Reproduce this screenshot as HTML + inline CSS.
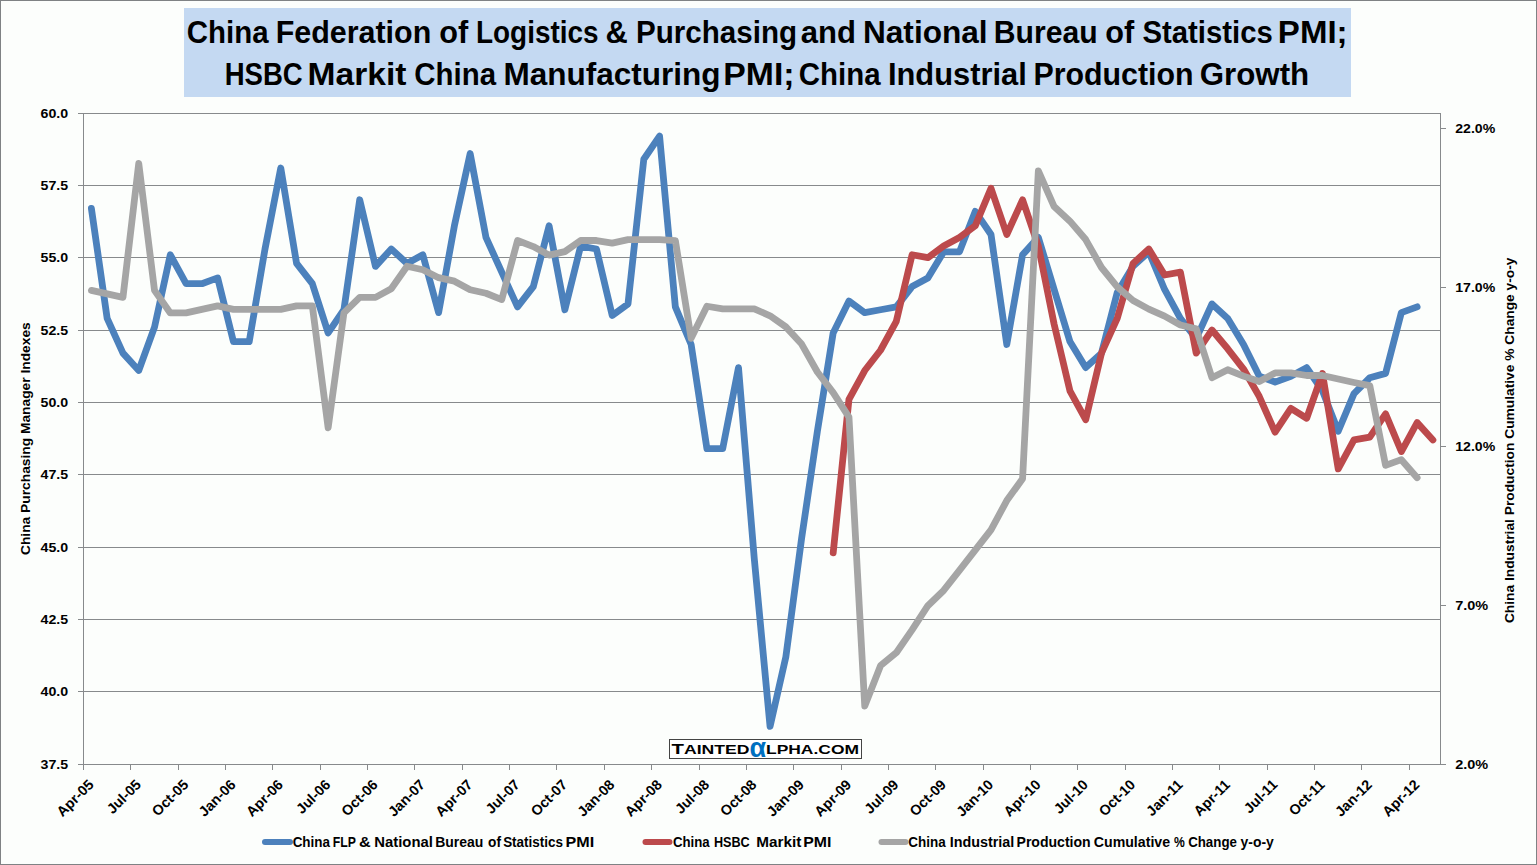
<!DOCTYPE html><html><head><meta charset="utf-8"><title>China PMI chart</title><style>
html,body{margin:0;padding:0;background:#FCFEFC;}svg{display:block;}
text{font-family:"Liberation Sans",Arial,sans-serif;font-weight:bold;fill:#000;}
</style></head><body>
<svg width="1537" height="865" viewBox="0 0 1537 865">
<rect x="0" y="0" width="1537" height="865" fill="#FCFEFC"/>
<rect x="0.5" y="0.5" width="1536" height="864" fill="none" stroke="#7F8284" stroke-width="1"/>
<rect x="184" y="8" width="1167" height="89" fill="#C4D9F2"/>
<text x="186.85" y="43.10" font-size="31" textLength="81.77" lengthAdjust="spacingAndGlyphs">China</text>
<text x="275.64" y="43.10" font-size="31" textLength="155.61" lengthAdjust="spacingAndGlyphs">Federation</text>
<text x="439.21" y="43.10" font-size="31" textLength="28.96" lengthAdjust="spacingAndGlyphs">of</text>
<text x="476.00" y="43.10" font-size="31" textLength="122.48" lengthAdjust="spacingAndGlyphs">Logistics</text>
<text x="605.60" y="43.10" font-size="31" textLength="22.28" lengthAdjust="spacingAndGlyphs">&amp;</text>
<text x="635.99" y="43.10" font-size="31" textLength="161.05" lengthAdjust="spacingAndGlyphs">Purchasing</text>
<text x="800.80" y="43.10" font-size="31" textLength="55.23" lengthAdjust="spacingAndGlyphs">and</text>
<text x="862.96" y="43.10" font-size="31" textLength="124.68" lengthAdjust="spacingAndGlyphs">National</text>
<text x="993.75" y="43.10" font-size="31" textLength="103.91" lengthAdjust="spacingAndGlyphs">Bureau</text>
<text x="1105.31" y="43.10" font-size="31" textLength="28.96" lengthAdjust="spacingAndGlyphs">of</text>
<text x="1142.45" y="43.10" font-size="31" textLength="130.34" lengthAdjust="spacingAndGlyphs">Statistics</text>
<text x="1277.87" y="43.10" font-size="31" textLength="69.73" lengthAdjust="spacingAndGlyphs">PMI;</text>
<text x="224.72" y="85.00" font-size="31" textLength="78.03" lengthAdjust="spacingAndGlyphs">HSBC</text>
<text x="307.64" y="85.00" font-size="31" textLength="98.80" lengthAdjust="spacingAndGlyphs">Markit</text>
<text x="414.25" y="85.00" font-size="31" textLength="81.77" lengthAdjust="spacingAndGlyphs">China</text>
<text x="503.57" y="85.00" font-size="31" textLength="217.02" lengthAdjust="spacingAndGlyphs">Manufacturing</text>
<text x="723.32" y="85.00" font-size="31" textLength="71.23" lengthAdjust="spacingAndGlyphs">PMI;</text>
<text x="798.75" y="85.00" font-size="31" textLength="81.77" lengthAdjust="spacingAndGlyphs">China</text>
<text x="887.91" y="85.00" font-size="31" textLength="138.80" lengthAdjust="spacingAndGlyphs">Industrial</text>
<text x="1033.44" y="85.00" font-size="31" textLength="160.13" lengthAdjust="spacingAndGlyphs">Production</text>
<text x="1199.79" y="85.00" font-size="31" textLength="109.42" lengthAdjust="spacingAndGlyphs">Growth</text>
<path d="M78.0 113.5H1440.0M78.0 185.5H1440.0M78.0 257.5H1440.0M78.0 330.5H1440.0M78.0 402.5H1440.0M78.0 474.5H1440.0M78.0 547.5H1440.0M78.0 619.5H1440.0M78.0 691.5H1440.0M78.0 764.5H1440.0" stroke="#878A8C" stroke-width="1" fill="none"/>
<path d="M83.5 113.0V765.0M1440.5 113.0V765.0" stroke="#878A8C" stroke-width="1" fill="none"/>
<path d="M1441.0 764.5H1446.0M1441.0 605.5H1446.0M1441.0 446.5H1446.0M1441.0 287.5H1446.0M1441.0 128.5H1446.0" stroke="#878A8C" stroke-width="1" fill="none"/>
<path d="M83.5 765.0V770.0M130.5 765.0V770.0M178.5 765.0V770.0M225.5 765.0V770.0M272.5 765.0V770.0M320.5 765.0V770.0M367.5 765.0V770.0M414.5 765.0V770.0M462.5 765.0V770.0M509.5 765.0V770.0M556.5 765.0V770.0M604.5 765.0V770.0M651.5 765.0V770.0M699.5 765.0V770.0M746.5 765.0V770.0M793.5 765.0V770.0M841.5 765.0V770.0M888.5 765.0V770.0M935.5 765.0V770.0M983.5 765.0V770.0M1030.5 765.0V770.0M1077.5 765.0V770.0M1125.5 765.0V770.0M1172.5 765.0V770.0M1219.5 765.0V770.0M1267.5 765.0V770.0M1314.5 765.0V770.0M1361.5 765.0V770.0M1409.5 765.0V770.0" stroke="#878A8C" stroke-width="1" fill="none"/>
<text x="68.1" y="117.8" text-anchor="end" font-size="13.7" textLength="27.6" lengthAdjust="spacingAndGlyphs">60.0</text>
<text x="68.1" y="189.8" text-anchor="end" font-size="13.7" textLength="27.6" lengthAdjust="spacingAndGlyphs">57.5</text>
<text x="68.1" y="261.8" text-anchor="end" font-size="13.7" textLength="27.6" lengthAdjust="spacingAndGlyphs">55.0</text>
<text x="68.1" y="334.8" text-anchor="end" font-size="13.7" textLength="27.6" lengthAdjust="spacingAndGlyphs">52.5</text>
<text x="68.1" y="406.8" text-anchor="end" font-size="13.7" textLength="27.6" lengthAdjust="spacingAndGlyphs">50.0</text>
<text x="68.1" y="478.8" text-anchor="end" font-size="13.7" textLength="27.6" lengthAdjust="spacingAndGlyphs">47.5</text>
<text x="68.1" y="551.8" text-anchor="end" font-size="13.7" textLength="27.6" lengthAdjust="spacingAndGlyphs">45.0</text>
<text x="68.1" y="623.8" text-anchor="end" font-size="13.7" textLength="27.6" lengthAdjust="spacingAndGlyphs">42.5</text>
<text x="68.1" y="695.8" text-anchor="end" font-size="13.7" textLength="27.6" lengthAdjust="spacingAndGlyphs">40.0</text>
<text x="68.1" y="768.8" text-anchor="end" font-size="13.7" textLength="27.6" lengthAdjust="spacingAndGlyphs">37.5</text>
<text x="1455.2" y="768.8" font-size="13.7" textLength="33" lengthAdjust="spacingAndGlyphs">2.0%</text>
<text x="1455.2" y="609.8" font-size="13.7" textLength="33" lengthAdjust="spacingAndGlyphs">7.0%</text>
<text x="1455.2" y="450.8" font-size="13.7" textLength="40" lengthAdjust="spacingAndGlyphs">12.0%</text>
<text x="1455.2" y="291.8" font-size="13.7" textLength="40" lengthAdjust="spacingAndGlyphs">17.0%</text>
<text x="1455.2" y="132.8" font-size="13.7" textLength="40" lengthAdjust="spacingAndGlyphs">22.0%</text>
<text transform="translate(94.6 785.5) rotate(-45)" text-anchor="end" font-size="14.3">Apr-05</text>
<text transform="translate(141.9 785.5) rotate(-45)" text-anchor="end" font-size="14.3">Jul-05</text>
<text transform="translate(189.3 785.5) rotate(-45)" text-anchor="end" font-size="14.3">Oct-05</text>
<text transform="translate(236.6 785.5) rotate(-45)" text-anchor="end" font-size="14.3">Jan-06</text>
<text transform="translate(284.0 785.5) rotate(-45)" text-anchor="end" font-size="14.3">Apr-06</text>
<text transform="translate(331.3 785.5) rotate(-45)" text-anchor="end" font-size="14.3">Jul-06</text>
<text transform="translate(378.7 785.5) rotate(-45)" text-anchor="end" font-size="14.3">Oct-06</text>
<text transform="translate(426.0 785.5) rotate(-45)" text-anchor="end" font-size="14.3">Jan-07</text>
<text transform="translate(473.4 785.5) rotate(-45)" text-anchor="end" font-size="14.3">Apr-07</text>
<text transform="translate(520.7 785.5) rotate(-45)" text-anchor="end" font-size="14.3">Jul-07</text>
<text transform="translate(568.1 785.5) rotate(-45)" text-anchor="end" font-size="14.3">Oct-07</text>
<text transform="translate(615.4 785.5) rotate(-45)" text-anchor="end" font-size="14.3">Jan-08</text>
<text transform="translate(662.8 785.5) rotate(-45)" text-anchor="end" font-size="14.3">Apr-08</text>
<text transform="translate(710.1 785.5) rotate(-45)" text-anchor="end" font-size="14.3">Jul-08</text>
<text transform="translate(757.5 785.5) rotate(-45)" text-anchor="end" font-size="14.3">Oct-08</text>
<text transform="translate(804.8 785.5) rotate(-45)" text-anchor="end" font-size="14.3">Jan-09</text>
<text transform="translate(852.2 785.5) rotate(-45)" text-anchor="end" font-size="14.3">Apr-09</text>
<text transform="translate(899.5 785.5) rotate(-45)" text-anchor="end" font-size="14.3">Jul-09</text>
<text transform="translate(946.9 785.5) rotate(-45)" text-anchor="end" font-size="14.3">Oct-09</text>
<text transform="translate(994.2 785.5) rotate(-45)" text-anchor="end" font-size="14.3">Jan-10</text>
<text transform="translate(1041.6 785.5) rotate(-45)" text-anchor="end" font-size="14.3">Apr-10</text>
<text transform="translate(1088.9 785.5) rotate(-45)" text-anchor="end" font-size="14.3">Jul-10</text>
<text transform="translate(1136.2 785.5) rotate(-45)" text-anchor="end" font-size="14.3">Oct-10</text>
<text transform="translate(1183.6 785.5) rotate(-45)" text-anchor="end" font-size="14.3">Jan-11</text>
<text transform="translate(1230.9 785.5) rotate(-45)" text-anchor="end" font-size="14.3">Apr-11</text>
<text transform="translate(1278.3 785.5) rotate(-45)" text-anchor="end" font-size="14.3">Jul-11</text>
<text transform="translate(1325.6 785.5) rotate(-45)" text-anchor="end" font-size="14.3">Oct-11</text>
<text transform="translate(1373.0 785.5) rotate(-45)" text-anchor="end" font-size="14.3">Jan-12</text>
<text transform="translate(1420.3 785.5) rotate(-45)" text-anchor="end" font-size="14.3">Apr-12</text>
<g transform="translate(30.2 0) rotate(-90)">
<text x="-555.00" y="0.00" font-size="13" textLength="232.76" lengthAdjust="spacingAndGlyphs">China Purchasing Manager Indexes</text>
</g>
<g transform="translate(1514.1 0) rotate(-90)">
<text x="-623.10" y="0.00" font-size="13" textLength="365.58" lengthAdjust="spacingAndGlyphs">China Industrial Production Cumulative % Change y-o-y</text>
</g>
<rect x="669.5" y="739.5" width="192" height="19" fill="#FFFFFF" stroke="#444" stroke-width="1"/>
<text x="671.5" y="753.8" font-size="15" textLength="78" lengthAdjust="spacingAndGlyphs">T<tspan font-size="13">AINTED</tspan></text>
<text x="749.6" y="756.6" font-size="27.5" textLength="16.6" lengthAdjust="spacingAndGlyphs" style="fill:#0070C0">&#945;</text>
<text x="766" y="753.8" font-size="13" textLength="93" lengthAdjust="spacingAndGlyphs">LPHA.COM</text>
<g fill="none" stroke-width="6.8" stroke-linejoin="round" stroke-linecap="round">
<polyline stroke="#4C81BC" points="91.39,208.48 107.17,318.43 122.96,353.15 138.74,370.51 154.52,327.11 170.30,254.77 186.09,283.71 201.87,283.71 217.65,277.92 233.44,341.57 249.22,341.57 265.00,248.99 280.78,167.97 296.57,263.45 312.35,283.71 328.13,332.89 343.91,309.75 359.70,199.80 375.48,266.35 391.26,248.99 407.04,263.45 422.83,254.77 438.61,312.64 454.39,225.84 470.18,153.51 485.96,237.41 501.74,272.13 517.52,306.85 533.31,286.60 549.09,225.84 564.87,309.75 580.65,246.09 596.44,248.99 612.22,315.53 628.00,303.96 643.78,159.29 659.57,136.15 675.35,306.85 691.13,344.47 706.92,448.63 722.70,448.63 738.48,367.61 754.26,558.57 770.05,726.39 785.83,656.95 801.61,538.32 817.39,431.27 833.18,332.89 848.96,301.07 864.74,312.64 880.52,309.75 896.31,306.85 912.09,286.60 927.87,277.92 943.66,251.88 959.44,251.88 975.22,211.37 991.00,234.52 1006.79,344.47 1022.57,254.77 1038.35,237.41 1054.13,289.49 1069.92,341.57 1085.70,367.61 1101.48,353.15 1117.26,292.39 1133.05,266.35 1148.83,251.88 1164.61,289.49 1180.40,318.43 1196.18,338.68 1211.96,303.96 1227.74,318.43 1243.53,344.47 1259.31,376.29 1275.09,382.08 1290.87,376.29 1306.66,367.61 1322.44,390.76 1338.22,431.27 1354.00,393.65 1369.79,377.74 1385.57,373.40 1401.35,312.64 1417.14,306.85"/>
<polyline stroke="#BC4A4C" points="833.18,552.79 848.96,399.44 864.74,370.51 880.52,350.25 896.31,321.32 912.09,254.77 927.87,257.67 943.66,246.09 959.44,237.41 975.22,225.84 991.00,188.23 1006.79,234.52 1022.57,199.80 1038.35,246.09 1054.13,324.21 1069.92,390.76 1085.70,419.69 1101.48,353.15 1117.26,318.43 1133.05,263.45 1148.83,248.99 1164.61,275.03 1180.40,272.13 1196.18,353.15 1211.96,330.00 1227.74,348.81 1243.53,369.06 1259.31,396.55 1275.09,432.13 1290.87,408.41 1306.66,418.25 1322.44,373.40 1338.22,468.88 1354.00,439.95 1369.79,437.05 1385.57,413.91 1401.35,451.52 1417.14,422.59 1432.92,439.95"/>
<polyline stroke="#A5A5A5" points="91.39,290.38 107.17,293.87 122.96,297.37 138.74,163.36 154.52,290.38 170.30,312.93 186.09,312.93 201.87,309.44 217.65,305.94 233.44,309.44 249.22,309.44 265.00,309.44 280.78,309.44 296.57,305.94 312.35,305.94 328.13,427.89 343.91,312.93 359.70,297.37 375.48,297.37 391.26,288.79 407.04,266.25 422.83,269.74 438.61,277.68 454.39,281.17 470.18,289.75 485.96,293.24 501.74,299.59 517.52,240.52 533.31,246.56 549.09,255.13 564.87,251.64 580.65,240.52 596.44,240.52 612.22,243.06 628.00,239.57 643.78,239.57 659.57,239.57 675.35,240.52 691.13,338.33 706.92,306.26 722.70,308.80 738.48,308.80 754.26,308.80 770.05,315.79 785.83,326.90 801.61,344.05 817.39,371.99 833.18,392.64 848.96,417.09 864.74,706.07 880.52,665.74 896.31,652.72 912.09,629.85 927.87,605.72 943.66,590.48 959.44,570.47 975.22,550.15 991.00,529.82 1006.79,500.61 1022.57,478.70 1038.35,170.98 1054.13,206.55 1069.92,221.15 1085.70,239.57 1101.48,267.52 1117.26,286.89 1133.05,300.54 1148.83,309.12 1164.61,316.10 1180.40,325.00 1196.18,328.81 1211.96,377.71 1227.74,369.77 1243.53,376.12 1259.31,381.52 1275.09,372.95 1290.87,372.95 1306.66,375.49 1322.44,375.49 1338.22,378.98 1354.00,382.47 1369.79,385.65 1385.57,465.36 1401.35,459.64 1417.14,477.74"/>
</g>
<g stroke-width="6" stroke-linecap="round">
<path d="M265 841.9H290" stroke="#4C81BC"/>
<path d="M645.5 841.9H669.5" stroke="#BC4A4C"/>
<path d="M881.5 841.9H905.5" stroke="#A5A5A5"/>
</g>
<text x="292.64" y="846.80" font-size="14" textLength="37.36" lengthAdjust="spacingAndGlyphs">China</text>
<text x="332.82" y="846.80" font-size="14" textLength="23.17" lengthAdjust="spacingAndGlyphs">FLP</text>
<text x="359.14" y="846.80" font-size="14" textLength="11.70" lengthAdjust="spacingAndGlyphs">&amp;</text>
<text x="374.34" y="846.80" font-size="14" textLength="58.57" lengthAdjust="spacingAndGlyphs">National</text>
<text x="435.20" y="846.80" font-size="14" textLength="48.13" lengthAdjust="spacingAndGlyphs">Bureau</text>
<text x="488.10" y="846.80" font-size="14" textLength="12.91" lengthAdjust="spacingAndGlyphs">of</text>
<text x="503.14" y="846.80" font-size="14" textLength="59.80" lengthAdjust="spacingAndGlyphs">Statistics</text>
<text x="565.45" y="846.80" font-size="14" textLength="28.68" lengthAdjust="spacingAndGlyphs">PMI</text>
<text x="672.96" y="846.80" font-size="14" textLength="36.74" lengthAdjust="spacingAndGlyphs">China</text>
<text x="713.90" y="846.80" font-size="14" textLength="35.81" lengthAdjust="spacingAndGlyphs">HSBC</text>
<text x="756.31" y="846.80" font-size="14" textLength="45.05" lengthAdjust="spacingAndGlyphs">Markit</text>
<text x="803.27" y="846.80" font-size="14" textLength="28.14" lengthAdjust="spacingAndGlyphs">PMI</text>
<text x="908.34" y="846.80" font-size="14" textLength="37.36" lengthAdjust="spacingAndGlyphs">China</text>
<text x="949.68" y="846.80" font-size="14" textLength="64.57" lengthAdjust="spacingAndGlyphs">Industrial</text>
<text x="1016.50" y="846.80" font-size="14" textLength="74.20" lengthAdjust="spacingAndGlyphs">Production</text>
<text x="1093.79" y="846.80" font-size="14" textLength="76.28" lengthAdjust="spacingAndGlyphs">Cumulative</text>
<text x="1174.10" y="846.80" font-size="14" textLength="10.79" lengthAdjust="spacingAndGlyphs">%</text>
<text x="1188.15" y="846.80" font-size="14" textLength="48.78" lengthAdjust="spacingAndGlyphs">Change</text>
<text x="1240.50" y="846.80" font-size="14" textLength="33.26" lengthAdjust="spacingAndGlyphs">y-o-y</text>
</svg></body></html>
